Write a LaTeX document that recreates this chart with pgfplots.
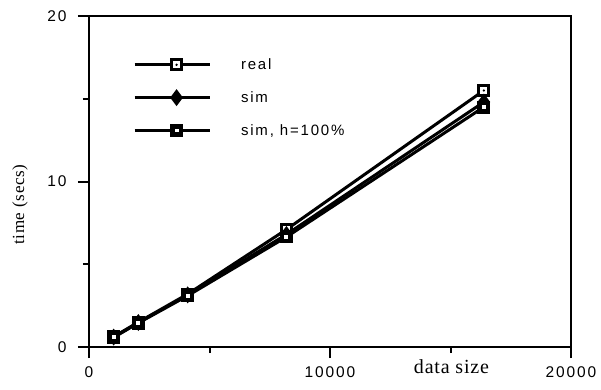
\documentclass[border=0pt]{standalone}
\usepackage{fontspec}
\usepackage{pgfplots}
\pgfplotsset{compat=1.18}
\setmainfont{Liberation Sans}
\newfontfamily\tickfont[LetterSpace=12]{Liberation Sans}
\newfontfamily\labelfont[LetterSpace=4]{Liberation Serif}

\pgfdeclareplotmark{sqdot}{%
  \pgfpathrectangle{\pgfpoint{-\pgfplotmarksize}{-\pgfplotmarksize}}{\pgfpoint{2\pgfplotmarksize}{2\pgfplotmarksize}}%
  \pgfsetfillcolor{black}\pgfusepath{fill}%
  \pgfpathrectangle{\pgfpoint{-0.55\pgfplotmarksize}{-0.55\pgfplotmarksize}}{\pgfpoint{1.1\pgfplotmarksize}{1.1\pgfplotmarksize}}%
  \pgfsetfillcolor{white}\pgfusepath{fill}%
  \pgfpathcircle{\pgfpointorigin}{0.2\pgfplotmarksize}%
  \pgfsetfillcolor{black}\pgfusepath{fill}%
}
\pgfdeclareplotmark{sqhole}{%
  \pgfpathrectangle{\pgfpoint{-\pgfplotmarksize}{-\pgfplotmarksize}}{\pgfpoint{2\pgfplotmarksize}{2\pgfplotmarksize}}%
  \pgfsetfillcolor{black}\pgfusepath{fill}%
  \pgfpathrectangle{\pgfpoint{-0.3\pgfplotmarksize}{-0.3\pgfplotmarksize}}{\pgfpoint{0.6\pgfplotmarksize}{0.6\pgfplotmarksize}}%
  \pgfsetfillcolor{white}\pgfusepath{fill}%
}

\begin{document}
\begin{tikzpicture}
\begin{axis}[
  name=ax,
  scale only axis,
  width=482pt, height=331pt,
  xmin=0, xmax=20000, ymin=0, ymax=20,
  xtick={0,10000,20000},
  ytick={0,10,20},
  minor xtick={5000,15000},
  minor ytick={5,15},
  tick pos=left,
  tick align=outside,
  major tick length=11pt,
  minor tick length=6pt,
  every tick/.style={line width=2pt, black},
  axis line style={line width=2.2pt},
  scaled x ticks=false,
  /pgf/number format/1000 sep={},
  /pgf/number format/assume math mode=true,
  tick label style={font=\tickfont\fontsize{15.5}{18}\selectfont},
  xticklabel style={yshift=-5pt},
  yticklabel style={xshift=-8pt},
  xlabel={data size},
  xlabel style={font=\labelfont\fontsize{20}{24}\selectfont, at={(rel axis cs:0.752,0)}, anchor=base, yshift=-26pt},
  legend style={draw=none, fill=none, at={(0.091,0.878)}, anchor=north west, inner sep=0pt,
    font=\tickfont\fontsize{15}{18}\selectfont, row sep=16.5pt,
    /tikz/every odd column/.append style={column sep=28pt}},
  legend cell align=left,
  legend image code/.code={\draw[#1, line width=3pt, mark repeat=2, mark phase=2] plot coordinates {(0pt,0pt) (42pt,0pt) (75pt,0pt)};},
  clip=false,
]
\addplot[black, line width=3pt, mark=sqdot, mark size=6.5pt] coordinates {
  (1024,0.62) (2048,1.5) (4096,3.2) (8192,7.1) (16384,15.5)};
\addlegendentry{real}
\addplot[black, line width=3pt, mark=diamond*, mark size=6pt] coordinates {
  (1024,0.6) (2048,1.48) (4096,3.15) (8192,6.8) (16384,14.8)};
\addlegendentry{sim}
\addplot[black, line width=3pt, mark=sqhole, mark size=6.5pt] coordinates {
  (1024,0.58) (2048,1.45) (4096,3.1) (8192,6.65) (16384,14.5)};
\addlegendentry{sim, h=100\%}
\node[rotate=90, anchor=center, font=\labelfont\fontsize{17}{20}\selectfont] at (rel axis cs:-0.143,0.43) {time (secs)};
\end{axis}
\pgfresetboundingbox
\path[use as bounding box] ([shift={(-89pt,-42pt)}]ax.south west) rectangle ++(601pt,389pt);
\end{tikzpicture}
\end{document}
